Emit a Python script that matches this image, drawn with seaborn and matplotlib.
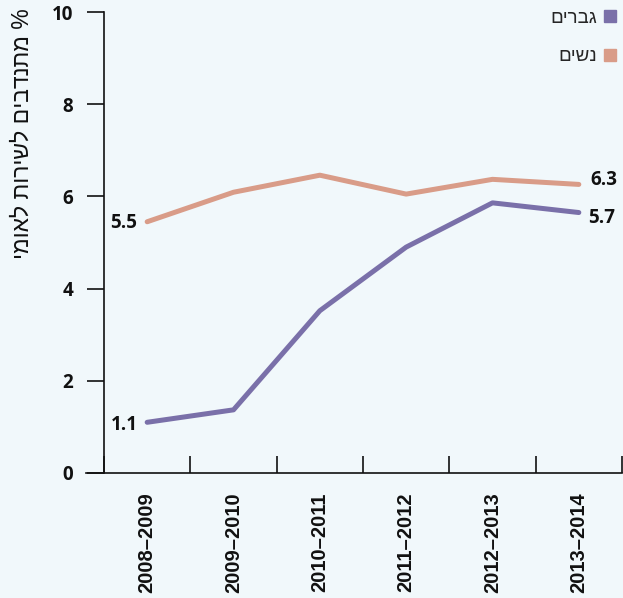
import numpy as np
import pandas as pd
import matplotlib.pyplot as plt
import seaborn as sns
from matplotlib.lines import Line2D
from matplotlib.ticker import FixedLocator

# data
years = ['2008–2009', '2009–2010', '2010–2011', '2011–2012', '2012–2013', '2013–2014']
men = [1.1, 1.37, 3.52, 4.9, 5.86, 5.65]
women = [5.45, 6.09, 6.46, 6.05, 6.37, 6.26]
men_end_labels = ['1.1', '5.7']
women_end_labels = ['5.5', '6.3']
men_name = 'גברים'
women_name = 'נשים'
y_title = '% מתנדבים לשירות לאומי'

purple = '#7a70a9'
salmon = '#d99c88'
bg = '#f1f8fb'


def rtl(s):
    # matplotlib lays text out left to right, so flip Hebrew to visual order
    return s[::-1]


df = pd.DataFrame({
    'year': years * 2,
    'value': men + women,
    'group': [men_name] * len(years) + [women_name] * len(years),
})

sns.set_theme(style='ticks')
plt.rcParams['font.family'] = ['Liberation Sans', 'DejaVu Sans']

fig = plt.figure(figsize=(6.23, 5.98), dpi=100, facecolor=bg)
ax = fig.add_axes([104 / 623, 125 / 598, 518 / 623, 461 / 598])
ax.set_facecolor(bg)

sns.lineplot(data=df, x='year', y='value', hue='group', sort=False,
             palette={men_name: purple, women_name: salmon},
             linewidth=3.6, legend=False, ax=ax, solid_capstyle='round')

ax.set_xlim(-0.5, 5.5)
ax.set_ylim(0, 10)
ax.set_yticks([0, 2, 4, 6, 8, 10])
ax.set_xlabel('')
ax.set_ylabel('')

for side in ['top', 'right']:
    ax.spines[side].set_visible(False)
for side in ['left', 'bottom']:
    ax.spines[side].set_linewidth(1.2)
    ax.spines[side].set_color('#111111')
ax.spines['bottom'].set_bounds(-0.5 - 18 / 86.33, 5.5)

num_font = ['Open Sans', 'DejaVu Sans']

ax.tick_params(axis='y', length=12, width=1.2, pad=10, colors='#111111')
for lab in ax.get_yticklabels():
    lab.set_fontfamily(num_font)
    lab.set_fontweight('bold')
    lab.set_fontsize(13.5)

ax.xaxis.set_minor_locator(FixedLocator(np.arange(-0.5, 6, 1)))
ax.tick_params(axis='x', which='major', length=0, pad=14)
ax.tick_params(axis='x', which='minor', direction='in', length=12, width=1.2, color='#111111')
for lab in ax.get_xticklabels():
    lab.set_rotation(90)
    lab.set_fontweight('bold')
    lab.set_fontsize(14.5)
    lab.set_color('#111111')

# first and last value labels
lab_kw = dict(textcoords='offset points', fontsize=13.5, fontweight='bold',
              family=num_font, color='#111111', va='center')
ax.annotate(men_end_labels[0], xy=(0, men[0]), xytext=(-7, -2), ha='right', **lab_kw)
ax.annotate(women_end_labels[0], xy=(0, women[0]), xytext=(-7, -1), ha='right', **lab_kw)
ax.annotate(men_end_labels[1], xy=(5, men[-1]), xytext=(7, -4), ha='left', **lab_kw)
ax.annotate(women_end_labels[1], xy=(5, women[-1]), xytext=(8, 3), ha='left', **lab_kw)

fig.text(22 / 623, 1 - 8 / 598, rtl(y_title), rotation=90, ha='center', va='top',
         fontsize=16.5, color='#111111')

handles = [Line2D([], [], marker='s', ls='', color=purple, markersize=8.5),
           Line2D([], [], marker='s', ls='', color=salmon, markersize=8.5)]
fig.legend(handles, [rtl(men_name), rtl(women_name)], loc='upper right',
           bbox_to_anchor=(1.0, 1 - 4 / 598), markerfirst=False, frameon=False,
           handlelength=0.8, labelspacing=1.15, handletextpad=0.3,
           borderpad=0.2, borderaxespad=0.1, fontsize=13.5)

fig.savefig('out.png', dpi=100, facecolor=bg)
